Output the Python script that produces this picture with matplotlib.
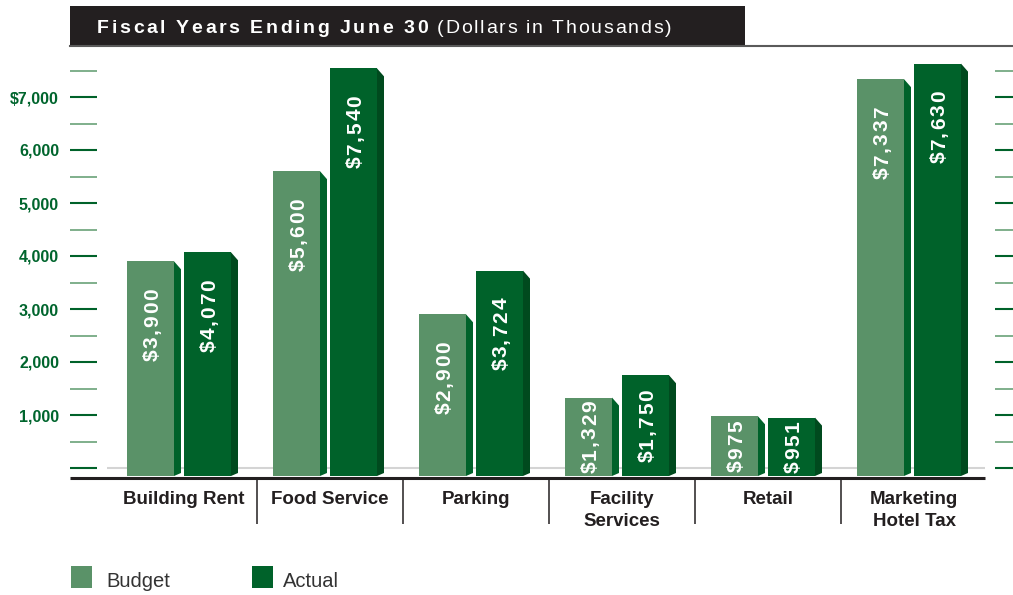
import matplotlib
matplotlib.use("Agg")
import matplotlib.pyplot as plt
import matplotlib.transforms as mtransforms
from matplotlib.patches import Rectangle, Polygon
from matplotlib.lines import Line2D
from matplotlib.font_manager import FontProperties, findfont, get_font
from matplotlib.ticker import FixedLocator, FixedFormatter, NullFormatter

try:
    from matplotlib.ft2font import LoadFlags
    NO_HINT = LoadFlags.NO_HINTING
except ImportError:  # older matplotlib
    from matplotlib.ft2font import LOAD_NO_HINTING as NO_HINT

# ---------------------------------------------------------------- data
categories = ["Building Rent", "Food Service", "Parking",
              "Facility\nServices", "Retail", "Marketing\nHotel Tax"]
budget = [3900, 5600, 2900, 1329, 975, 7337]
actual = [4070, 7540, 3724, 1750, 951, 7630]
series_names = ["Budget", "Actual"]

y_major = [0, 1000, 2000, 3000, 4000, 5000, 6000, 7000]
y_minor = [500, 1500, 2500, 3500, 4500, 5500, 6500, 7500]
y_major_labels = ["", "1,000", "2,000", "3,000", "4,000", "5,000", "6,000", "$7,000"]

title_bold = "Fiscal Years Ending June 30"
title_note = "(Dollars in Thousands)"

# ---------------------------------------------------------------- style
FACE = ["#5a9268", "#00622a"]
SIDE = ["#00622a", "#004a1e"]
GREEN_TXT = "#00652d"
INK = "#231f20"
FAMILY = ["Liberation Sans", "DejaVu Sans"]

W, H = 1013, 595
fig = plt.figure(figsize=(W / 100, H / 100), dpi=100)
# pixel coordinates measured from the top-left corner of the canvas
px = mtransforms.Affine2D().scale(1, -1).translate(0, H)

# plot area: x in category units, y in thousands of dollars
AX_L, AX_R, AX_B, AX_T = 97, 995, 468, 46
CAT_W = 146.0            # pixels per category
CAT0 = 184.0             # pixel centre of the first category
UNIT = 1000 / 53.0       # dollars (thousands) per pixel
ax = fig.add_axes([AX_L / W, (H - AX_B) / H, (AX_R - AX_L) / W, (AX_B - AX_T) / H])
ax.set_xlim((AX_L - CAT0) / CAT_W, (AX_R - CAT0) / CAT_W)
ax.set_ylim(0, (AX_B - AX_T) * UNIT)
for s in ax.spines.values():
    s.set_visible(False)
ax.set_xticks([])
ax.patch.set_visible(False)


def xpix(p):
    return (p - CAT0) / CAT_W


def ypix(p):
    return (AX_B - p) * UNIT


# y ticks on the left (labelled) and on the right (plain)
ax.yaxis.set_major_locator(FixedLocator(y_major))
ax.yaxis.set_minor_locator(FixedLocator(y_minor))
ax.yaxis.set_major_formatter(FixedFormatter(y_major_labels))
ax.yaxis.set_minor_formatter(NullFormatter())
ax.tick_params(axis="y", which="major", length=27 * 0.72, width=1.5,
               color="#00622a", pad=11 * 0.72, labelsize=11.5,
               labelcolor=GREEN_TXT)
ax.tick_params(axis="y", which="minor", length=27 * 0.72, width=1.1,
               color="#5c9a6c")
for lab in ax.get_yticklabels():
    lab.set_fontweight("bold")
    lab.set_family(FAMILY)

sec = ax.secondary_yaxis("right")
sec.yaxis.set_major_locator(FixedLocator(y_major))
sec.yaxis.set_minor_locator(FixedLocator(y_minor))
sec.yaxis.set_major_formatter(NullFormatter())
sec.yaxis.set_minor_formatter(NullFormatter())
sec.tick_params(axis="y", which="major", length=18 * 0.72, width=1.5, color="#00622a")
sec.tick_params(axis="y", which="minor", length=18 * 0.72, width=1.1, color="#5c9a6c")
sec.spines["right"].set_visible(False)

# floor: pale back edge at zero and dark front edge
FLOOR = ypix(476)
ax.hlines(0, xpix(107), xpix(985), color="#d4d4d4", lw=1.5, zorder=1, clip_on=False)
ax.hlines(ypix(478), xpix(70), xpix(985), color=INK, lw=2.2, zorder=5, clip_on=False)


def advances(s, prop):
    font = get_font(findfont(prop))
    font.set_size(prop.get_size_in_points(), fig.dpi)
    return [font.load_char(ord(c), flags=NO_HINT).linearHoriAdvance / 65536 for c in s]


def spaced(owner, x, y, s, base, prop, spacing, color, rotation=0, zorder=6):
    """Write s one glyph at a time with extra tracking (pixels)."""
    adv = advances(s, prop)
    pos = 0.0
    size_px = prop.get_size_in_points() * fig.dpi / 72
    for c, a in zip(s, adv):
        if rotation == 0:
            tr = base + mtransforms.Affine2D().translate(pos, 0)
        else:
            tr = base + mtransforms.Affine2D().translate(0.358 * size_px, pos)
        owner.text(x, y, c, transform=tr, fontproperties=prop, color=color,
                   rotation=rotation, rotation_mode="anchor",
                   ha="left", va="baseline", zorder=zorder, clip_on=False)
        pos += a + spacing
    return sum(adv) + spacing * (len(s) - 1)


# bars with a shaded side face
BAR_W = 47 / CAT_W
OFFSETS = [-33.5 / CAT_W, 23.5 / CAT_W]
DX = 7 / CAT_W
n = len(categories)
for k, vals in enumerate([budget, actual]):
    xs = [i + OFFSETS[k] for i in range(n)]
    bars = ax.bar(xs, [v - FLOOR for v in vals], bottom=FLOOR, width=BAR_W,
                  color=FACE[k], linewidth=0, zorder=3, clip_on=False)
    for bar, v in zip(bars, vals):
        xr = bar.get_x() + bar.get_width()
        ax.add_patch(Polygon([(xr, v), (xr + DX, v - 8 * UNIT),
                              (xr + DX, FLOOR + 3 * UNIT), (xr, FLOOR)],
                             closed=True, facecolor=SIDE[k], lw=0,
                             zorder=3, clip_on=False))
        # value label, written upward inside the front face
        text = f"${v:,}"
        bar_px = (v - FLOOR) / UNIT
        for size, track in ((15, 1.8), (11.5, 0.3)):
            prop = FontProperties(family=FAMILY, weight="bold", size=size)
            length = sum(advances(text, prop)) + track * (len(text) - 1)
            if length + 4 <= bar_px:
                break
        gap = 27 if bar_px >= 27 + length + 10 else (bar_px - length) / 2
        base = ax.transData + mtransforms.Affine2D().translate(0, -gap - length)
        spaced(ax, bar.get_x() + bar.get_width() / 2, v, text, base, prop,
               track, "white", rotation=90)

# category separators and names
ax.vlines([i + 0.5 for i in range(n - 1)], ypix(479), ypix(524), color=INK,
          lw=1.1, clip_on=False)
cat_prop = FontProperties(family=FAMILY, weight="bold", size=13.5)
for i, name in enumerate(categories):
    for j, line in enumerate(name.split("\n")):
        ax.text(i, ypix(504 + 22 * j), line, fontproperties=cat_prop, color=INK,
                ha="center", va="baseline", clip_on=False)

# heading bar
fig.add_artist(Rectangle((70, 6), 675, 39, transform=px, facecolor=INK, lw=0))
fig.add_artist(Line2D([70, W], [46, 46], transform=px, color="#5a5a5a", lw=1.5))
tb = FontProperties(family=FAMILY, weight="bold", size=14)
tn = FontProperties(family=FAMILY, weight="normal", size=14)
track_b = (331 - sum(advances(title_bold, tb))) / (len(title_bold) - 1)
track_n = (234 - sum(advances(title_note, tn))) / (len(title_note) - 1)
spaced(fig, 97, 33, title_bold, px, tb, track_b, "white")
spaced(fig, 437, 33, title_note, px, tn, track_n, "white")

# legend
leg_prop = FontProperties(family=FAMILY, size=14.5)
for k, (sx, tx) in enumerate([(71, 106), (252, 283)]):
    fig.add_artist(Rectangle((sx, 566), 21, 22, transform=px, facecolor=FACE[k], lw=0))
    fig.text(tx, 587, series_names[k], transform=px, fontproperties=leg_prop,
             color="#333333", ha="left", va="baseline")

fig.savefig("out.png", dpi=100)
